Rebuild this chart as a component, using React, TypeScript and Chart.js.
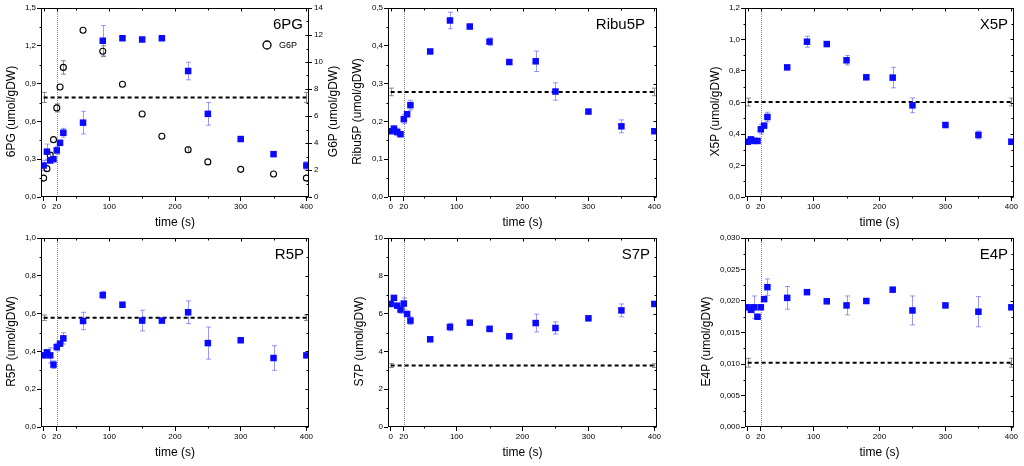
import React, { useEffect, useRef } from "react";
import { Chart, registerables } from "chart.js";

Chart.register(...registerables);

const FONT = "'Liberation Sans', Arial, sans-serif";

// sampling times (s) after the pulse
const times = [0, 5, 10, 15, 20, 25, 30, 60, 90, 120, 150, 180, 220, 250, 300, 350, 400];
const xTicks = [0, 20, 100, 200, 300, 400];
const xMinorTicks = [50, 150, 250, 350];
const pulseTime = 20;
const baseSpan = [0, 400];

// 6PG + G6P
const pg6 = [0.25, 0.36, 0.29, 0.3, 0.37, 0.43, 0.51, 0.59, 1.24, 1.26, 1.25, 1.26, 1.0, 0.66, 0.46, 0.34, 0.25];
const pg6Err = [0.04, 0.06, 0.02, 0.01, 0.03, 0.01, 0.035, 0.09, 0.12, 0, 0, 0, 0.07, 0.09, 0, 0, 0.03];
const pg6Base = 0.79;
const pg6BaseErr = 0.04;
const pg6Ticks = [0, 0.3, 0.6, 0.9, 1.2, 1.5];

const g6p = [1.4, 2.1, 3.1, 4.25, 6.6, 8.15, 9.6, 12.35, 10.8, 8.35, 6.15, 4.5, 3.5, 2.6, 2.05, 1.7, 1.4];
const g6pErr = [0, 0, 0.2, 0, 0.3, 0, 0.5, 0, 0.4, 0, 0, 0, 0.2, 0, 0, 0, 0];
const g6pTicks = [0, 2, 4, 6, 8, 10, 12, 14];

// Ribu5P
const ribu5p = [0.174, 0.181, 0.172, 0.166, 0.206, 0.219, 0.243, 0.385, 0.467, 0.451, 0.411, 0.357, 0.359, 0.279, 0.226, 0.187, 0.174];
const ribu5pErr = [0, 0, 0.01, 0, 0.012, 0, 0.013, 0, 0.022, 0, 0.01, 0, 0.027, 0.023, 0, 0.017, 0];
const ribu5pBase = 0.278;
const ribu5pBaseErr = 0.01;
const ribu5pTicks = [0, 0.1, 0.2, 0.3, 0.4, 0.5];

// X5P
const x5p = [0.351, 0.366, 0.356, 0.356, 0.43, 0.453, 0.508, 0.823, 0.986, 0.971, 0.868, 0.76, 0.758, 0.582, 0.457, 0.394, 0.351];
const x5pErr = [0, 0, 0.01, 0, 0.03, 0, 0.03, 0, 0.035, 0, 0.03, 0, 0.065, 0.047, 0, 0.025, 0];
const x5pBase = 0.603;
const x5pBaseErr = 0.025;
const x5pTicks = [0, 0.2, 0.4, 0.6, 0.8, 1.0, 1.2];

// R5P
const r5p = [0.379, 0.395, 0.379, 0.33, 0.423, 0.441, 0.469, 0.561, 0.698, 0.647, 0.563, 0.563, 0.607, 0.444, 0.459, 0.365, 0.379];
const r5pErr = [0, 0, 0.04, 0.02, 0.02, 0, 0.03, 0.046, 0.02, 0, 0.055, 0, 0.06, 0.085, 0, 0.065, 0];
const r5pBase = 0.578;
const r5pBaseErr = 0.015;
const r5pTicks = [0, 0.2, 0.4, 0.6, 0.8, 1.0];

// S7P
const s7p = [6.51, 6.83, 6.42, 6.21, 6.53, 5.98, 5.63, 4.64, 5.29, 5.52, 5.19, 4.8, 5.5, 5.24, 5.75, 6.17, 6.51];
const s7pErr = [0, 0, 0, 0.2, 0.3, 0, 0.2, 0, 0.2, 0, 0.15, 0, 0.47, 0.32, 0, 0.34, 0];
const s7pBase = 3.25;
const s7pBaseErr = 0.1;
const s7pTicks = [0, 2, 4, 6, 8, 10];

// E4P
const e4p = [0.019, 0.0186, 0.019, 0.0175, 0.019, 0.0203, 0.0222, 0.0205, 0.0214, 0.01995, 0.0193, 0.02, 0.0218, 0.0185, 0.0193, 0.0183, 0.019];
const e4pErr = [0, 0, 0.0018, 0, 0, 0, 0.0013, 0.0018, 0.0003, 0, 0.0015, 0, 0.0003, 0.0023, 0, 0.0024, 0];
const e4pBase = 0.0102;
const e4pBaseErr = 0.0007;
const e4pTicks = [0, 0.005, 0.01, 0.015, 0.02, 0.025, 0.03];

const fmt = (v: number, d: number) => v.toFixed(d).replace(".", ",");

interface Second {
  name: string;
  title: string;
  values: number[];
  errors: number[];
  ticks: number[];
}

interface PanelProps {
  name: string;
  yTitle: string;
  values: number[];
  errors: number[];
  base: number;
  baseErr: number;
  yTicks: number[];
  decimals: number;
  left: number;
  top: number;
  width: number;
  height: number;
  yWidth: number;
  padRight: number;
  xHeight: number;
  xTitlePad: number;
  titleX: number;
  labelInset: number;
  second?: Second;
}

const Panel: React.FC<PanelProps> = (p) => {
  const canvasRef = useRef<HTMLCanvasElement>(null);
  const chartRef = useRef<Chart | null>(null);

  useEffect(() => {
    if (!canvasRef.current) return;
    const ctx = canvasRef.current.getContext("2d");
    if (!ctx) return;
    if (chartRef.current) chartRef.current.destroy();

    const decor = {
      id: "decor",
      beforeDatasetsDraw(chart: any) {
        const { ctx, chartArea: a, scales } = chart;
        const xs = scales.x;
        ctx.save();
        // dotted line at the pulse
        const px = Math.round(xs.getPixelForValue(pulseTime)) + 0.5;
        ctx.strokeStyle = "#8a8a8a";
        ctx.lineWidth = 1;
        ctx.setLineDash([1, 1]);
        ctx.beginPath();
        ctx.moveTo(px, a.top);
        ctx.lineTo(px, a.bottom);
        ctx.stroke();
        ctx.setLineDash([]);
        // error bars
        chart.data.datasets.forEach((ds: any) => {
          if (!ds.errors) return;
          const ys = scales[ds.yAxisID || "y"];
          ctx.strokeStyle = ds.errorColor;
          ds.data.forEach((pt: any, i: number) => {
            const e = ds.errors[i];
            if (!e) return;
            const cx = Math.round(xs.getPixelForValue(pt.x)) + 0.5;
            const y1 = ys.getPixelForValue(pt.y - e);
            const y2 = ys.getPixelForValue(pt.y + e);
            ctx.beginPath();
            ctx.moveTo(cx, y1);
            ctx.lineTo(cx, y2);
            ctx.moveTo(cx - 2.5, y1);
            ctx.lineTo(cx + 2.5, y1);
            ctx.moveTo(cx - 2.5, y2);
            ctx.lineTo(cx + 2.5, y2);
            ctx.stroke();
          });
        });
        ctx.restore();
      },
      afterDraw(chart: any) {
        const { ctx, chartArea: a, scales } = chart;
        ctx.save();
        ctx.strokeStyle = "#000";
        ctx.lineWidth = 1;
        const l = Math.round(a.left) + 0.5;
        const r = Math.round(a.right) - 0.5;
        const t = Math.round(a.top) + 0.5;
        const b = Math.round(a.bottom) - 0.5;
        ctx.strokeRect(l, t, r - l, b - t);

        ctx.beginPath();
        // top: inward ticks; bottom: outward minor ticks
        xTicks.forEach((v) => {
          const x = Math.round(scales.x.getPixelForValue(v)) + 0.5;
          ctx.moveTo(x, t);
          ctx.lineTo(x, t + 3);
        });
        xMinorTicks.forEach((v) => {
          const x = Math.round(scales.x.getPixelForValue(v)) + 0.5;
          ctx.moveTo(x, t);
          ctx.lineTo(x, t + 2);
          ctx.moveTo(x, b);
          ctx.lineTo(x, b + 2);
        });
        // left: minor ticks halfway between labels
        const ys = scales.y;
        for (let i = 0; i < ys.ticks.length - 1; i++) {
          const y = Math.round(ys.getPixelForValue((ys.ticks[i].value + ys.ticks[i + 1].value) / 2)) + 0.5;
          ctx.moveTo(l, y);
          ctx.lineTo(l - 2, y);
        }
        // right: inward ticks
        const rs = scales.y1 || scales.y;
        rs.ticks.forEach((tk: any, i: number) => {
          const y = Math.round(rs.getPixelForValue(tk.value)) + 0.5;
          ctx.moveTo(r, y);
          ctx.lineTo(r - 3, y);
          if (i < rs.ticks.length - 1) {
            const ym = Math.round(rs.getPixelForValue((tk.value + rs.ticks[i + 1].value) / 2)) + 0.5;
            ctx.moveTo(r, ym);
            ctx.lineTo(r - 2, ym);
          }
        });
        ctx.stroke();

        ctx.fillStyle = "#000";
        // panel label
        ctx.font = `15px ${FONT}`;
        ctx.textAlign = "right";
        ctx.textBaseline = "alphabetic";
        ctx.fillText(p.name, a.right - p.labelInset, a.top + 21);
        // y titles
        const midY = (a.top + a.bottom) / 2 + 9;
        ctx.font = `12px ${FONT}`;
        ctx.textAlign = "center";
        ctx.textBaseline = "middle";
        ctx.save();
        ctx.translate(p.titleX, midY);
        ctx.rotate(-Math.PI / 2);
        ctx.fillText(p.yTitle, 0, 0);
        ctx.restore();
        if (p.second) {
          ctx.save();
          ctx.translate(a.right + 25, midY);
          ctx.rotate(-Math.PI / 2);
          ctx.fillText(p.second.title, 0, 0);
          ctx.restore();
          // legend
          ctx.beginPath();
          ctx.lineWidth = 1.3;
          ctx.arc(a.right - 42, a.top + 37, 4, 0, Math.PI * 2);
          ctx.stroke();
          ctx.font = `9px ${FONT}`;
          ctx.textAlign = "left";
          ctx.fillText(p.second.name, a.right - 30, a.top + 37.5);
        }
        ctx.restore();
      },
    };

    const tickFont = { size: 8, family: FONT };
    const datasets: any[] = [
      {
        label: p.name,
        data: times.map((t, i) => ({ x: t, y: p.values[i] })),
        errors: p.errors,
        errorColor: "rgba(70,70,255,0.55)",
        pointStyle: "rect",
        pointRadius: 4.6,
        backgroundColor: "#0a0aff",
        borderColor: "#0a0aff",
        borderWidth: 0,
        yAxisID: "y",
      },
    ];
    if (p.second) {
      datasets.push({
        label: p.second.name,
        data: times.map((t, i) => ({ x: t, y: p.second!.values[i] })),
        errors: p.second.errors,
        errorColor: "#8a8a8a",
        pointStyle: "circle",
        pointRadius: 3,
        backgroundColor: "rgba(255,255,255,0)",
        borderColor: "#000",
        borderWidth: 1.1,
        yAxisID: "y1",
      });
    }
    datasets.push({
      label: "steady state",
      data: baseSpan.map((t) => ({ x: t, y: p.base })),
      errors: baseSpan.map(() => p.baseErr),
      errorColor: "#8a8a8a",
      showLine: true,
      borderColor: "#000",
      borderWidth: 2,
      borderDash: [4, 3],
      pointRadius: 0,
      yAxisID: "y",
    });

    const scales: any = {
      x: {
        type: "linear",
        min: -4,
        max: 404,
        afterBuildTicks: (s: any) => {
          s.ticks = xTicks.map((v) => ({ value: v }));
        },
        afterFit: (s: any) => {
          s.height = p.xHeight;
          s.paddingLeft = 0;
          s.paddingRight = 0;
        },
        ticks: {
          autoSkip: false,
          maxRotation: 0,
          padding: 1,
          color: "#000",
          font: tickFont,
          callback: (v: any) => String(v),
        },
        grid: { drawOnChartArea: false, drawTicks: true, tickLength: 4, color: "#000" },
        border: { display: false },
        title: {
          display: true,
          text: "time (s)",
          color: "#000",
          font: { size: 12, family: FONT },
          padding: { top: 0, bottom: p.xTitlePad },
        },
      },
      y: {
        type: "linear",
        min: p.yTicks[0],
        max: p.yTicks[p.yTicks.length - 1],
        afterBuildTicks: (s: any) => {
          s.ticks = p.yTicks.map((v) => ({ value: v }));
        },
        afterFit: (s: any) => {
          s.width = p.yWidth;
          s.paddingTop = 0;
          s.paddingBottom = 0;
        },
        ticks: {
          padding: 1,
          color: "#000",
          font: tickFont,
          callback: (v: any) => fmt(Number(v), p.decimals),
        },
        grid: { drawOnChartArea: false, drawTicks: true, tickLength: 4, color: "#000" },
        border: { display: false },
      },
    };
    if (p.second) {
      const sec = p.second;
      scales.y1 = {
        type: "linear",
        position: "right",
        min: sec.ticks[0],
        max: sec.ticks[sec.ticks.length - 1],
        afterBuildTicks: (s: any) => {
          s.ticks = sec.ticks.map((v) => ({ value: v }));
        },
        afterFit: (s: any) => {
          s.width = p.padRight;
          s.paddingTop = 0;
          s.paddingBottom = 0;
        },
        ticks: {
          padding: 2,
          color: "#000",
          font: tickFont,
          callback: (v: any) => String(v),
        },
        grid: { drawOnChartArea: false, drawTicks: true, tickLength: 3, color: "#000" },
        border: { display: false },
      };
    }

    chartRef.current = new Chart(ctx, {
      type: "scatter",
      data: { datasets },
      options: {
        animation: false,
        responsive: true,
        maintainAspectRatio: false,
        layout: {
          padding: { left: 0, top: 8, bottom: 0, right: p.second ? 0 : p.padRight },
        },
        plugins: { legend: { display: false }, tooltip: { enabled: false } },
        scales,
      },
      plugins: [decor],
    } as any);

    return () => {
      if (chartRef.current) {
        chartRef.current.destroy();
        chartRef.current = null;
      }
    };
  }, [p]);

  return (
    <div
      style={{
        position: "absolute",
        left: p.left,
        top: p.top,
        width: p.width,
        height: p.height,
      }}
    >
      <canvas ref={canvasRef} />
    </div>
  );
};

const row1 = { top: 0, height: 230, xHeight: 33, xTitlePad: 0 };
const row2 = { top: 230, height: 236, xHeight: 39, xTitlePad: 6 };
const col1 = { left: 0, width: 348, yWidth: 41, padRight: 39 };
const col2 = { left: 348, width: 352, yWidth: 40, padRight: 43 };
const col3 = { left: 700, width: 324, yWidth: 45, padRight: 10 };

const panels: PanelProps[] = [
  {
    name: "6PG", yTitle: "6PG (umol/gDW)", values: pg6, errors: pg6Err, base: pg6Base, baseErr: pg6BaseErr,
    yTicks: pg6Ticks, decimals: 1, ...row1, ...col1, titleX: 12, labelInset: 6,
    second: { name: "G6P", title: "G6P (umol/gDW)", values: g6p, errors: g6pErr, ticks: g6pTicks },
  },
  {
    name: "Ribu5P", yTitle: "Ribu5P (umol/gDW)", values: ribu5p, errors: ribu5pErr, base: ribu5pBase, baseErr: ribu5pBaseErr,
    yTicks: ribu5pTicks, decimals: 1, ...row1, ...col2, titleX: 10, labelInset: 12,
  },
  {
    name: "X5P", yTitle: "X5P (umol/gDW)", values: x5p, errors: x5pErr, base: x5pBase, baseErr: x5pBaseErr,
    yTicks: x5pTicks, decimals: 1, ...row1, ...col3, titleX: 16, labelInset: 6,
  },
  {
    name: "R5P", yTitle: "R5P (umol/gDW)", values: r5p, errors: r5pErr, base: r5pBase, baseErr: r5pBaseErr,
    yTicks: r5pTicks, decimals: 1, ...row2, ...col1, titleX: 12, labelInset: 5,
  },
  {
    name: "S7P", yTitle: "S7P (umol/gDW)", values: s7p, errors: s7pErr, base: s7pBase, baseErr: s7pBaseErr,
    yTicks: s7pTicks, decimals: 0, ...row2, ...col2, titleX: 12, labelInset: 7,
  },
  {
    name: "E4P", yTitle: "E4P (umol/gDW)", values: e4p, errors: e4pErr, base: e4pBase, baseErr: e4pBaseErr,
    yTicks: e4pTicks, decimals: 3, ...row2, ...col3, titleX: 7, labelInset: 6,
  },
];

export default function App() {
  return (
    <div
      style={{
        position: "absolute",
        left: 0,
        top: 0,
        width: 1024,
        height: 466,
        background: "#fff",
        overflow: "hidden",
      }}
    >
      {panels.map((p) => (
        <Panel key={p.name} {...p} />
      ))}
    </div>
  );
}
